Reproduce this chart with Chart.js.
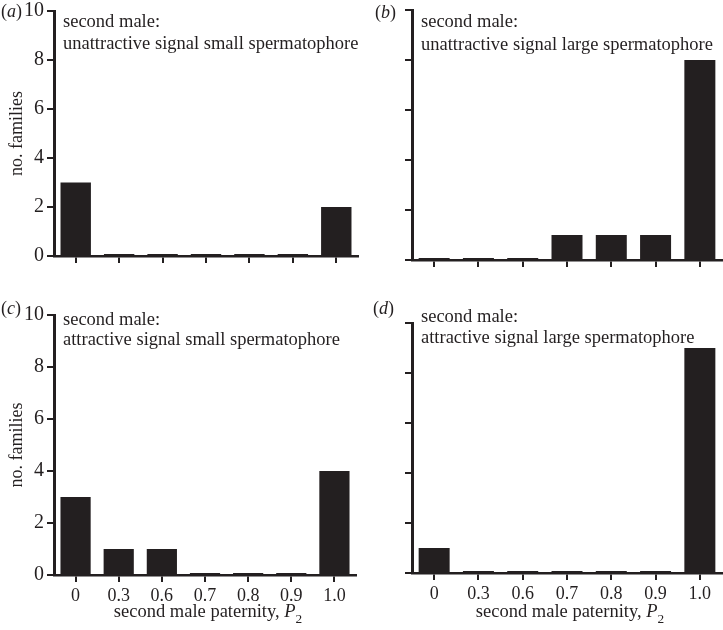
<!DOCTYPE html>
<html>
<head>
<meta charset="utf-8">
<script src="https://cdn.jsdelivr.net/npm/chart.js@4/dist/chart.umd.min.js"></script>
<style>
  body { margin: 0; background: #fff; }
  #wrap { position: relative; width: 723px; height: 630px; }
  canvas { position: absolute; }
</style>
</head>
<body>
<div id="wrap">
  <canvas id="pa" width="361" height="300" style="left:0;top:0"></canvas>
  <canvas id="pb" width="362" height="300" style="left:361px;top:0"></canvas>
  <canvas id="pc" width="361" height="330" style="left:0;top:300px"></canvas>
  <canvas id="pd" width="362" height="330" style="left:361px;top:300px"></canvas>
</div>
<script>
const ink = '#231f20';
const serif = '"Liberation Serif", "DejaVu Serif", serif';

// second male paternity classes
const categories = ['0', '0.3', '0.6', '0.7', '0.8', '0.9', '1.0'];

// no. families per class
const unattractiveSmall = [3, 0, 0, 0, 0, 0, 2];
const unattractiveLarge = [0, 0, 0, 1, 1, 1, 8];
const attractiveSmall   = [3, 1, 1, 0, 0, 0, 4];
const attractiveLarge   = [1, 0, 0, 0, 0, 0, 9];

const yTicks = [0, 2, 4, 6, 8, 10];

// draws runs of text, some italic, from left to right
function drawRuns(ctx, x, y, runs, size) {
    runs.forEach(r => {
        const fs = r.sub ? size * 0.72 : size;
        ctx.font = (r.italic ? 'italic ' : '') + fs + 'px ' + serif;
        ctx.fillText(r.t, x, y + (r.sub ? size * 0.3 : 0));
        x += ctx.measureText(r.t).width;
    });
}
function runsWidth(ctx, runs, size) {
    let w = 0;
    runs.forEach(r => {
        const fs = r.sub ? size * 0.72 : size;
        ctx.font = (r.italic ? 'italic ' : '') + fs + 'px ' + serif;
        w += ctx.measureText(r.t).width;
    });
    return w;
}

const panelText = {
    id: 'panelText',
    afterDraw(chart, args, opts) {
        const ctx = chart.ctx;
        const area = chart.chartArea;
        ctx.save();
        ctx.fillStyle = ink;
        ctx.textAlign = 'left';
        ctx.textBaseline = 'alphabetic';
        drawRuns(ctx, opts.letterX, opts.letterY,
            [{t: '('}, {t: opts.letter, italic: true}, {t: ')'}], 18);
        ctx.font = '18.5px ' + serif;
        opts.lines.forEach((t, i) => ctx.fillText(t, area.left + 9, opts.lineY[i]));
        if (opts.xTitle) {
            const runs = [{t: 'second male paternity, '}, {t: 'P', italic: true}, {t: '2', sub: true}];
            const w = runsWidth(ctx, runs, 18.5);
            drawRuns(ctx, (area.left + area.right) / 2 - w / 2 + 3, opts.xTitleY, runs, 18.5);
        }
        ctx.restore();
    }
};

function makePanel(id, values, p) {
    const canvas = document.getElementById(id);
    return new Chart(canvas, {
        type: 'bar',
        data: {
            labels: categories,
            datasets: [{
                data: values,
                backgroundColor: ink,
                borderWidth: 0,
                barPercentage: 0.7,
                categoryPercentage: 1,
                minBarLength: 2
            }]
        },
        plugins: [panelText],
        options: {
            responsive: false,
            animation: false,
            devicePixelRatio: 1,
            layout: { padding: { left: 0, right: p.padRight, top: p.padTop, bottom: 0 } },
            plugins: {
                legend: { display: false },
                tooltip: { enabled: false },
                panelText: p.text
            },
            scales: {
                x: {
                    grid: { display: true, drawOnChartArea: false, drawTicks: true, tickLength: 7,
                            offset: false, color: ink, lineWidth: 2 },
                    border: { display: true, color: ink, width: 2.5 },
                    ticks: { display: p.xLabels, color: ink, padding: 3, maxRotation: 0,
                             font: { family: serif, size: 18 } },
                    afterFit(scale) { scale.height = p.xHeight; scale.paddingLeft = 0; scale.paddingRight = 0; }
                },
                y: {
                    min: 0,
                    max: 10,
                    afterBuildTicks(scale) { scale.ticks = yTicks.map(v => ({value: v})); },
                    grid: { display: true, drawOnChartArea: false, drawTicks: true, tickLength: 7,
                            color: ink, lineWidth: 2 },
                    border: { display: true, color: ink, width: 3 },
                    ticks: { display: p.yLabels, color: ink, padding: 3,
                             font: { family: serif, size: 20 } },
                    title: { display: p.yLabels, text: 'no. families', color: ink,
                             padding: { top: 6, bottom: 0 },
                             font: { family: serif, size: 18 } },
                    afterFit(scale) { scale.width = p.yWidth; scale.paddingTop = 0; scale.paddingBottom = 0; }
                }
            }
        }
    });
}

makePanel('pa', unattractiveSmall, {
    padRight: 3, padTop: 11, xHeight: 44, yWidth: 54, xLabels: false, yLabels: true,
    text: { letter: 'a', letterX: 1, letterY: 17, lineY: [27, 49],
            lines: ['second male:', 'unattractive signal small spermatophore'] }
});
makePanel('pb', unattractiveLarge, {
    padRight: 1, padTop: 10, xHeight: 40, yWidth: 51, xLabels: false, yLabels: false,
    text: { letter: 'b', letterX: 14, letterY: 18, lineY: [27, 50],
            lines: ['second male:', 'unattractive signal large spermatophore'] }
});
makePanel('pc', attractiveSmall, {
    padRight: 5, padTop: 15, xHeight: 55, yWidth: 54, xLabels: true, yLabels: true,
    text: { letter: 'c', letterX: 1, letterY: 14, lineY: [25, 45], xTitle: true, xTitleY: 317,
            lines: ['second male:', 'attractive signal small spermatophore'] }
});
makePanel('pd', attractiveLarge, {
    padRight: 1, padTop: 23, xHeight: 57, yWidth: 51, xLabels: true, yLabels: false,
    text: { letter: 'd', letterX: 12, letterY: 14, lineY: [22, 43], xTitle: true, xTitleY: 317,
            lines: ['second male:', 'attractive signal large spermatophore'] }
});
</script>
</body>
</html>
